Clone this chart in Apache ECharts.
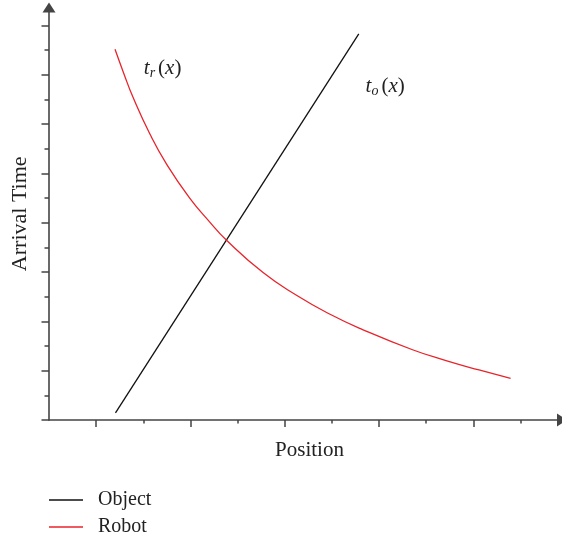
<!DOCTYPE html>
<html>
<head>
<meta charset="utf-8">
<script src="https://cdn.jsdelivr.net/npm/echarts@6/dist/echarts.min.js"></script>
<style>html,body{margin:0;padding:0;background:#fff;}#c{width:562px;height:540px;}</style>
</head>
<body>
<div id="c"></div>
<script>
// Data (arbitrary units: x in position units, y in time units)
const seriesNames = ['Object', 'Robot'];
const objectX = [1.41, 6.57];
const objectY = [0.29, 15.66];
const robotX = [1.40, 1.59, 1.78, 2.14, 2.49, 2.98, 3.41, 3.76, 4.54, 5.24, 5.95, 6.65, 7.71, 8.42, 9.12, 9.79];
const robotY = [15.04, 14.04, 13.10, 11.60, 10.39, 9.01, 8.03, 7.30, 5.98, 5.07, 4.30, 3.67, 2.85, 2.41, 2.03, 1.69];
const xMajorTicks = [1, 3, 5, 7, 9];
const xMinorTicks = [2, 4, 6, 8, 10];
const yMajorTicks = [0, 2, 4, 6, 8, 10, 12, 14, 16];
const yMinorTicks = [1, 3, 5, 7, 9, 11, 13, 15];
const xRange = [0, 10.88];
const yRange = [0, 16.73];
const labelRobot = { text: 'r', coord: [2.41, 14.28] };
const labelObject = { text: 'o', coord: [7.13, 13.55] };

const zip = (xs, ys) => xs.map((x, i) => [x, ys[i]]);
const axisColor = '#444';
const textColor = '#222';
const font = 'Liberation Serif';

const chart = echarts.init(document.getElementById('c'));

function mkLabel(l) {
  return {
    coord: l.coord,
    symbol: 'rect',
    symbolSize: 1,
    itemStyle: { color: 'rgba(0,0,0,0)' },
    label: {
      show: true,
      position: 'inside',
      formatter: '{t|t}{s|' + l.text + '}{p|(}{t|x}{p|)}',
      rich: {
        t: { fontFamily: font, fontStyle: 'italic', fontSize: 21, color: textColor },
        s: { fontFamily: font, fontStyle: 'italic', fontSize: 14, color: textColor, padding: [10, 3, 0, 0] },
        p: { fontFamily: font, fontSize: 21, color: textColor }
      }
    }
  };
}

const axisCommon = {
  type: 'value',
  splitLine: { show: false },
  axisLabel: { show: false }
};

chart.setOption({
  animation: false,
  grid: { left: 49, top: 7.6, width: 514, height: 412.4, containLabel: false },
  xAxis: [
    Object.assign({}, axisCommon, {
      min: xRange[0], max: xRange[1], position: 'bottom',
      name: 'Position', nameLocation: 'middle', nameGap: 20,
      nameTextStyle: { fontFamily: font, fontSize: 21, color: textColor, padding: [0, 0, 0, 8] },
      axisLine: { show: true, lineStyle: { color: axisColor, width: 1.6 }, symbol: ['none', 'triangle'], symbolSize: [13, 10] },
      axisTick: { show: true, inside: false, length: 7, customValues: xMajorTicks, lineStyle: { color: axisColor, width: 1.5 } }
    }),
    Object.assign({}, axisCommon, {
      min: xRange[0], max: xRange[1], position: 'bottom',
      axisLine: { show: false },
      axisTick: { show: true, inside: false, length: 3.5, customValues: xMinorTicks, lineStyle: { color: axisColor, width: 1.5 } }
    })
  ],
  yAxis: [
    Object.assign({}, axisCommon, {
      min: yRange[0], max: yRange[1], position: 'left',
      name: 'Arrival Time', nameLocation: 'middle', nameGap: 18,
      nameTextStyle: { fontFamily: font, fontSize: 22, color: textColor },
      axisLine: { show: true, lineStyle: { color: axisColor, width: 1.6 }, symbol: ['none', 'triangle'], symbolSize: [13, 10] },
      axisTick: { show: true, inside: false, length: 7.5, customValues: yMajorTicks, lineStyle: { color: axisColor, width: 1.5 } }
    }),
    Object.assign({}, axisCommon, {
      min: yRange[0], max: yRange[1], position: 'left',
      axisLine: { show: false },
      axisTick: { show: true, inside: false, length: 4.5, customValues: yMinorTicks, lineStyle: { color: axisColor, width: 1.5 } }
    })
  ],
  legend: {
    orient: 'vertical', left: 49, top: 490, padding: 0,
    icon: 'rect',
    itemWidth: 34, itemHeight: 1.5, itemGap: 7,
    data: seriesNames,
    textStyle: { fontFamily: font, fontSize: 20, color: textColor, padding: [0, 0, 0, 10] }
  },
  series: [
    {
      name: seriesNames[0], type: 'line', data: zip(objectX, objectY),
      showSymbol: false, symbol: 'none', color: '#111',
      lineStyle: { color: '#111', width: 1.3 },
      markPoint: { data: [mkLabel(labelObject)] }
    },
    {
      name: seriesNames[1], type: 'line', data: zip(robotX, robotY), smooth: 0.5,
      showSymbol: false, symbol: 'none', color: '#e8232a',
      lineStyle: { color: '#e8232a', width: 1.3 },
      markPoint: { data: [mkLabel(labelRobot)] }
    }
  ]
});
</script>
</body>
</html>
